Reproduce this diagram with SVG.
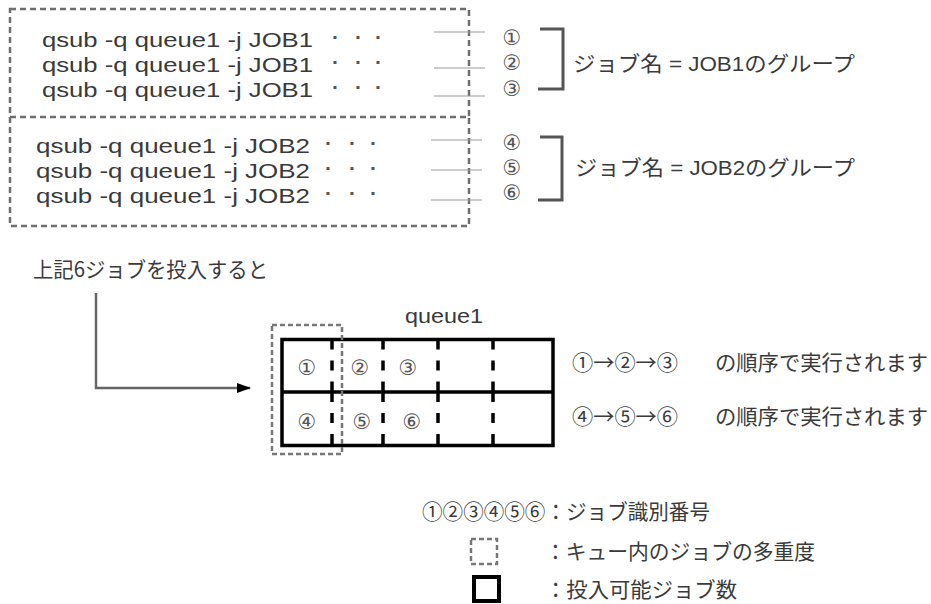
<svg xmlns="http://www.w3.org/2000/svg" width="931" height="604" viewBox="0 0 931 604">
<defs>
<style>
text{font-family:"Liberation Sans","Noto Sans CJK JP",sans-serif;fill:#3a3a3a;font-size:21px}
.jp{font-family:"Noto Sans CJK JP",sans-serif}
.dots{font-weight:bold;fill:#555}
.cn{font-family:"DejaVu Sans","Noto Sans CJK JP",sans-serif;font-size:21px;text-anchor:middle;fill:#555}
.gdash{fill:none;stroke:#6e6e6e;stroke-width:2.5;stroke-dasharray:6 4}
.qdash{fill:none;stroke:#777;stroke-width:2.5;stroke-dasharray:5 3}
.lead{stroke:#9a9a9a;stroke-width:1.2}
.brk{fill:none;stroke:#555;stroke-width:3}
.div{stroke:#000;stroke-width:3.5;stroke-dasharray:10 11}
</style>
<marker id="ah" markerWidth="14" markerHeight="10" refX="13" refY="5" orient="auto" markerUnits="userSpaceOnUse">
<polygon points="0,0 14,5 0,10" fill="#000"/>
</marker>
</defs>
<rect width="931" height="604" fill="#fff"/>

<g id="job1-group">
<rect class="gdash" x="10" y="9" width="459" height="108"/>
<text x="42" y="47" textLength="271" lengthAdjust="spacingAndGlyphs">qsub -q queue1 -j JOB1</text>
<text class="dots" x="332 355 375" y="44">···</text>
<text x="42" y="72" textLength="271" lengthAdjust="spacingAndGlyphs">qsub -q queue1 -j JOB1</text>
<text class="dots" x="332 355 375" y="69">···</text>
<text x="42" y="97" textLength="271" lengthAdjust="spacingAndGlyphs">qsub -q queue1 -j JOB1</text>
<text class="dots" x="332 355 375" y="94">···</text>
</g>
<g id="job2-group">
<path class="gdash" d="M10,117 V226 H469 V117"/>
<text x="36" y="153" textLength="274" lengthAdjust="spacingAndGlyphs">qsub -q queue1 -j JOB2</text>
<text class="dots" x="325 349 370" y="150">···</text>
<text x="36" y="178" textLength="274" lengthAdjust="spacingAndGlyphs">qsub -q queue1 -j JOB2</text>
<text class="dots" x="325 349 370" y="175">···</text>
<text x="36" y="203" textLength="274" lengthAdjust="spacingAndGlyphs">qsub -q queue1 -j JOB2</text>
<text class="dots" x="325 349 370" y="200">···</text>
</g>

<g id="connectors">
<line class="lead" x1="434" y1="32" x2="485" y2="32"/>
<line class="lead" x1="434" y1="68" x2="485" y2="68"/>
<line class="lead" x1="434" y1="96" x2="485" y2="96"/>
<line class="lead" x1="431" y1="140" x2="482" y2="140"/>
<line class="lead" x1="431" y1="170" x2="482" y2="170"/>
<line class="lead" x1="431" y1="200" x2="482" y2="200"/>
<path class="brk" d="M540,29 H563 V89 H538"/>
<path class="brk" d="M540,137 H562 V200 H538"/>
<path d="M96,293 V388 H250" fill="none" stroke="#666" stroke-width="2.5" marker-end="url(#ah)"/>
</g>

<g id="job-ids">
<text class="cn" x="512" y="45">①</text>
<text class="cn" x="512" y="70">②</text>
<text class="cn" x="512" y="96">③</text>
<text class="cn" x="512" y="150">④</text>
<text class="cn" x="512" y="175">⑤</text>
<text class="cn" x="512" y="200">⑥</text>
</g>

<g id="group-labels">
<text x="573" y="71" textLength="282" lengthAdjust="spacingAndGlyphs">ジョブ名 = JOB1のグループ</text>
<text x="575" y="175" textLength="280" lengthAdjust="spacingAndGlyphs">ジョブ名 = JOB2のグループ</text>
</g>

<g id="caption">
<text class="jp" x="33" y="277" font-size="20" textLength="235" lengthAdjust="spacingAndGlyphs">上記6ジョブを投入すると</text>
</g>

<g id="queue1">
<text x="405" y="323" font-size="20" textLength="78" lengthAdjust="spacingAndGlyphs">queue1</text>
<rect x="282" y="339.5" width="271" height="106" fill="none" stroke="#000" stroke-width="3.5"/>
<line x1="282" y1="392" x2="553" y2="392" stroke="#000" stroke-width="3.5"/>
<line class="div" x1="332" y1="339.5" x2="332" y2="392"/>
<line class="div" x1="383" y1="339.5" x2="383" y2="392"/>
<line class="div" x1="438" y1="339.5" x2="438" y2="392"/>
<line class="div" x1="493" y1="339.5" x2="493" y2="392"/>
<line class="div" x1="332" y1="392" x2="332" y2="445.5"/>
<line class="div" x1="383" y1="392" x2="383" y2="445.5"/>
<line class="div" x1="438" y1="392" x2="438" y2="445.5"/>
<line class="div" x1="493" y1="392" x2="493" y2="445.5"/>
<text class="cn" x="307" y="375">①</text>
<text class="cn" x="360" y="375">②</text>
<text class="cn" x="408" y="375">③</text>
<text class="cn" x="307" y="429">④</text>
<text class="cn" x="362" y="429">⑤</text>
<text class="cn" x="412" y="429">⑥</text>
<rect class="qdash" x="272" y="325" width="70" height="129"/>
</g>

<g id="order-labels">
<text class="jp" x="572" y="370" textLength="106" lengthAdjust="spacingAndGlyphs">①→②→③</text>
<text class="jp" x="715" y="370" textLength="213" lengthAdjust="spacingAndGlyphs">の順序で実行されます</text>
<text class="jp" x="572" y="424" textLength="106" lengthAdjust="spacingAndGlyphs">④→⑤→⑥</text>
<text class="jp" x="715" y="424" textLength="213" lengthAdjust="spacingAndGlyphs">の順序で実行されます</text>
</g>

<g id="legend">
<text class="jp" x="422" y="519" textLength="288" lengthAdjust="spacingAndGlyphs">①②③④⑤⑥：ジョブ識別番号</text>
<rect class="qdash" x="471" y="539" width="26" height="25"/>
<text class="jp" x="545" y="559" textLength="270" lengthAdjust="spacingAndGlyphs">：キュー内のジョブの多重度</text>
<rect x="474" y="577" width="25" height="24" fill="none" stroke="#000" stroke-width="4"/>
<text class="jp" x="545" y="597" textLength="192" lengthAdjust="spacingAndGlyphs">：投入可能ジョブ数</text>
</g>
</svg>
